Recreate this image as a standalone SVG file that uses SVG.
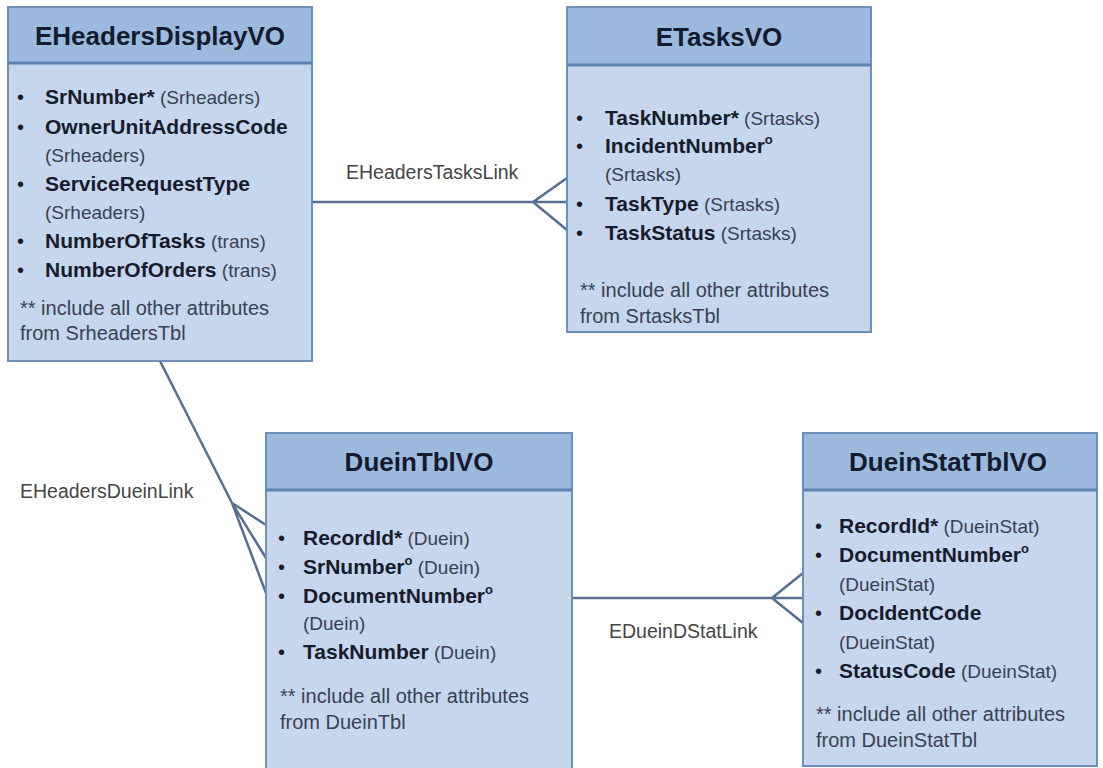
<svg xmlns="http://www.w3.org/2000/svg" width="1103" height="768" viewBox="0 0 1103 768">
<style>
.body{fill:#c6d7ed;stroke:#6d8fbb;stroke-width:2}
.head{fill:#9dbade;stroke:#6d8fbb;stroke-width:2}
.sep{stroke:#5b82b3;stroke-width:3}
.title{font-family:"Liberation Sans",Arial,sans-serif;font-weight:bold;font-size:26px;fill:#141a30;text-anchor:middle}
.b{font-family:"Liberation Sans",Arial,sans-serif;font-weight:bold;font-size:21px;fill:#161c2c}
.r{font-family:"Liberation Sans",Arial,sans-serif;font-weight:normal;font-size:19px;fill:#3a4052}
.n{font-family:"Liberation Sans",Arial,sans-serif;font-weight:normal;font-size:20px;fill:#3a4052}
.sup{font-size:13px;font-weight:bold}
.bul{font-family:"Liberation Sans",Arial,sans-serif;font-size:20px;fill:#161c2c}
.lbl{font-family:"Liberation Sans",Arial,sans-serif;font-size:19.5px;fill:#454545}
.con{stroke:#566f8f;stroke-width:2.5;fill:none}
</style>
<rect width="1103" height="768" fill="#ffffff"/>
<g id="connectors">
<path class="con" d="M312 202 H533 M533 202 L567 178 M533 202 H567 M533 202 L567 230"/>
<path class="con" d="M160 361 L232 503 M232 503 L266 525 M232 503 L266 558 M232 503 L266 593"/>
<path class="con" d="M572 598 H772 M772 598 L803 573 M772 598 H803 M772 598 L803 623"/>
<text class="lbl" x="346" y="179">EHeadersTasksLink</text>
<text class="lbl" x="20" y="498">EHeadersDueinLink</text>
<text class="lbl" x="609" y="638">EDueinDStatLink</text>
</g>
<g id="EHeadersDisplayVO">
<rect class="body" x="8" y="7" width="304" height="354"/>
<rect class="head" x="8" y="7" width="304" height="56"/>
<line class="sep" x1="8" y1="63" x2="312" y2="63"/>
<text class="title" x="160" y="45">EHeadersDisplayVO</text>
<text class="bul" x="17" y="104">•</text>
<text x="45" y="104"><tspan class="b">SrNumber*</tspan><tspan class="r"> (Srheaders)</tspan></text>
<text class="bul" x="17" y="134">•</text>
<text class="b" x="45" y="134">OwnerUnitAddressCode</text>
<text class="r" x="45" y="162">(Srheaders)</text>
<text class="bul" x="17" y="191">•</text>
<text class="b" x="45" y="191">ServiceRequestType</text>
<text class="r" x="45" y="219">(Srheaders)</text>
<text class="bul" x="17" y="248">•</text>
<text x="45" y="248"><tspan class="b">NumberOfTasks</tspan><tspan class="r"> (trans)</tspan></text>
<text class="bul" x="17" y="277">•</text>
<text x="45" y="277"><tspan class="b">NumberOfOrders</tspan><tspan class="r"> (trans)</tspan></text>
<text class="n" x="20" y="315">** include all other attributes</text>
<text class="n" x="20" y="340">from SrheadersTbl</text>
</g>
<g id="ETasksVO">
<rect class="body" x="567" y="7" width="304" height="325"/>
<rect class="head" x="567" y="7" width="304" height="58"/>
<line class="sep" x1="567" y1="65" x2="871" y2="65"/>
<text class="title" x="719" y="46">ETasksVO</text>
<text class="bul" x="576" y="125">•</text>
<text x="605" y="125"><tspan class="b">TaskNumber*</tspan><tspan class="r"> (Srtasks)</tspan></text>
<text class="bul" x="576" y="153">•</text>
<text x="605" y="153"><tspan class="b">IncidentNumber</tspan><tspan class="b sup" dy="-9">o</tspan></text>
<text class="r" x="605" y="181">(Srtasks)</text>
<text class="bul" x="576" y="211">•</text>
<text x="605" y="211"><tspan class="b">TaskType</tspan><tspan class="r"> (Srtasks)</tspan></text>
<text class="bul" x="576" y="240">•</text>
<text x="605" y="240"><tspan class="b">TaskStatus</tspan><tspan class="r"> (Srtasks)</tspan></text>
<text class="n" x="580" y="297">** include all other attributes</text>
<text class="n" x="580" y="323">from SrtasksTbl</text>
</g>
<g id="DueinTblVO">
<rect class="body" x="266" y="433" width="306" height="345"/>
<rect class="head" x="266" y="433" width="306" height="57"/>
<line class="sep" x1="266" y1="490" x2="572" y2="490"/>
<text class="title" x="419" y="471">DueinTblVO</text>
<text class="bul" x="278" y="545">•</text>
<text x="303" y="545"><tspan class="b">RecordId*</tspan><tspan class="r"> (Duein)</tspan></text>
<text class="bul" x="278" y="574">•</text>
<text x="303" y="574"><tspan class="b">SrNumber</tspan><tspan class="b sup" dy="-9">o</tspan><tspan class="r" dy="9"> (Duein)</tspan></text>
<text class="bul" x="278" y="603">•</text>
<text x="303" y="603"><tspan class="b">DocumentNumber</tspan><tspan class="b sup" dy="-9">o</tspan></text>
<text class="r" x="303" y="630">(Duein)</text>
<text class="bul" x="278" y="659">•</text>
<text x="303" y="659"><tspan class="b">TaskNumber</tspan><tspan class="r"> (Duein)</tspan></text>
<text class="n" x="280" y="703">** include all other attributes</text>
<text class="n" x="280" y="729">from DueinTbl</text>
</g>
<g id="DueinStatTblVO">
<rect class="body" x="803" y="433" width="294" height="333"/>
<rect class="head" x="803" y="433" width="294" height="57"/>
<line class="sep" x1="803" y1="490" x2="1097" y2="490"/>
<text class="title" x="948" y="471">DueinStatTblVO</text>
<text class="bul" x="815" y="533">•</text>
<text x="839" y="533"><tspan class="b">RecordId*</tspan><tspan class="r"> (DueinStat)</tspan></text>
<text class="bul" x="815" y="562">•</text>
<text x="839" y="562"><tspan class="b">DocumentNumber</tspan><tspan class="b sup" dy="-9">o</tspan></text>
<text class="r" x="839" y="591">(DueinStat)</text>
<text class="bul" x="815" y="620">•</text>
<text class="b" x="839" y="620">DocIdentCode</text>
<text class="r" x="839" y="649">(DueinStat)</text>
<text class="bul" x="815" y="678">•</text>
<text x="839" y="678"><tspan class="b">StatusCode</tspan><tspan class="r"> (DueinStat)</tspan></text>
<text class="n" x="816" y="721">** include all other attributes</text>
<text class="n" x="816" y="747">from DueinStatTbl</text>
</g>
</svg>
